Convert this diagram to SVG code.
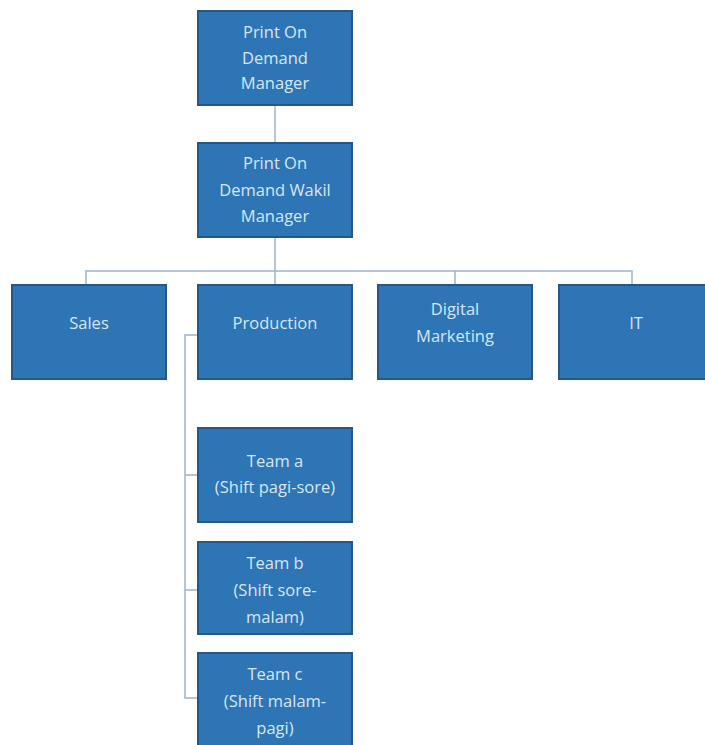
<svg xmlns="http://www.w3.org/2000/svg" width="705" height="745" viewBox="0 0 705 745">
<style>
.box{fill:#2E75B6;stroke:#24588A;stroke-width:2}
.t{font-family:"Open Sans","Liberation Sans",sans-serif;font-size:16.5px;fill:#D6E6F5;text-anchor:middle}
.c{fill:none;stroke:#9FB4C7;stroke-width:1.5}
</style>
<rect width="705" height="745" fill="#ffffff"/>
<g id="connectors">
<path class="c" d="M275 105V143"/>
<path class="c" d="M275 237V271M86 285V271H632V285M275 271V285M455 271V285"/>
<path class="c" d="M198 335H185V698H198M185 475H198M185 590H198"/>
</g>
<g id="pod-manager">
<rect class="box" x="198" y="11" width="154" height="94"/>
<text class="t" x="275" y="38">Print On</text>
<text class="t" x="275" y="64">Demand</text>
<text class="t" x="275" y="89">Manager</text>
</g>
<g id="pod-wakil">
<rect class="box" x="198" y="143" width="154" height="94"/>
<text class="t" x="275" y="169">Print On</text>
<text class="t" x="275" y="196">Demand Wakil</text>
<text class="t" x="275" y="222">Manager</text>
</g>
<g id="sales">
<rect class="box" x="12" y="285" width="154" height="94"/>
<text class="t" x="89" y="329">Sales</text>
</g>
<g id="production">
<rect class="box" x="198" y="285" width="154" height="94"/>
<text class="t" x="275" y="329">Production</text>
</g>
<g id="digital-marketing">
<rect class="box" x="378" y="285" width="154" height="94"/>
<text class="t" x="455" y="315">Digital</text>
<text class="t" x="455" y="342">Marketing</text>
</g>
<g id="it">
<rect class="box" x="559" y="285" width="154" height="94"/>
<text class="t" x="636" y="329">IT</text>
</g>
<g id="team-a">
<rect class="box" x="198" y="428" width="154" height="94"/>
<text class="t" x="275" y="467">Team a</text>
<text class="t" x="275" y="493">(Shift pagi-sore)</text>
</g>
<g id="team-b">
<rect class="box" x="198" y="542" width="154" height="92"/>
<text class="t" x="275" y="569">Team b</text>
<text class="t" x="275" y="596">(Shift sore-</text>
<text class="t" x="275" y="623">malam)</text>
</g>
<g id="team-c">
<rect class="box" x="198" y="653" width="154" height="94"/>
<text class="t" x="275" y="680">Team c</text>
<text class="t" x="275" y="707">(Shift malam-</text>
<text class="t" x="275" y="734">pagi)</text>
</g>
</svg>
